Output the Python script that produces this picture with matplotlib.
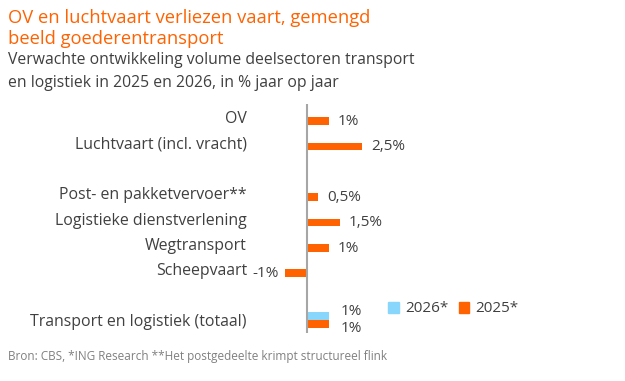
import matplotlib
matplotlib.use("Agg")
import matplotlib.pyplot as plt
from matplotlib.patches import Patch

categories = ["OV", "Luchtvaart (incl. vracht)", "", "Post- en pakketvervoer**",
              "Logistieke dienstverlening", "Wegtransport", "Scheepvaart", "",
              "Transport en logistiek (totaal)"]
values_2025 = [1, 2.5, None, 0.5, 1.5, 1, -1, None, 1]
values_2026 = [None, None, None, None, None, None, None, None, 1]
labels_2025 = ["1%", "2,5%", "", "0,5%", "1,5%", "1%", "-1%", "", "1%"]
labels_2026 = ["", "", "", "", "", "", "", "", "1%"]
series_names = ["2026*", "2025*"]

ORANGE = "#FF6200"
BLUE = "#89D6FD"
GREY = "#404040"

W, H = 625, 381
fig = plt.figure(figsize=(W / 100, H / 100), dpi=100)
plt.rcParams['font.family'] = ['Open Sans', 'DejaVu Sans']

# axes placement in pixels
px_per_unit = 22.0
x0_px = 307.0
xmin, xmax = -2.0, 13.0
left_px = x0_px + xmin * px_per_unit
right_px = x0_px + xmax * px_per_unit
top_px, bot_px = 104.3, 332.7
ax = fig.add_axes([left_px / W, 1 - bot_px / H, (right_px - left_px) / W, (bot_px - top_px) / H])
ax.set_xlim(xmin, xmax)
n = len(categories)
ax.set_ylim(n - 0.5, -0.5)

bh = 0.3
off = 0.157
ys = list(range(n))
for i, (v5, v6) in enumerate(zip(values_2025, values_2026)):
    if v5 is not None:
        ax.barh(i + off, v5, height=bh, color=ORANGE, linewidth=0)
    if v6 is not None:
        ax.barh(i - off, v6, height=bh, color=BLUE, linewidth=0)

VFS = 11
for i, (v5, l5, v6, l6) in enumerate(zip(values_2025, labels_2025, values_2026, labels_2026)):
    both = v6 is not None
    if v5 is not None:
        y = i + (0.32 if both else off + 0.02)
        if v5 >= 0:
            ax.annotate(l5, (v5, y), xytext=(9 if not both else 12, 0), textcoords="offset pixels",
                        ha="left", va="center", fontsize=VFS, color=GREY)
        else:
            ax.annotate(l5, (v5, y), xytext=(-6, 0), textcoords="offset pixels",
                        ha="right", va="center", fontsize=VFS, color=GREY)
    if v6 is not None:
        ax.annotate(l6, (v6, i - 0.32), xytext=(12, 0), textcoords="offset pixels",
                    ha="left", va="center", fontsize=VFS, color=GREY)

ax.axvline(0, color="#A6A6A6", linewidth=1.5)
for s in ax.spines.values():
    s.set_visible(False)
ax.set_xticks([])
ax.set_yticks(ys)
ax.set_yticklabels(categories, fontsize=11.4, color=GREY)
ax.tick_params(axis="y", length=0, pad=(left_px - 247) * 0.72)

handles = [Patch(color=BLUE, label=series_names[0]), Patch(color=ORANGE, label=series_names[1])]
fig.legend(handles=handles, loc="center left", bbox_to_anchor=(388 / W, 1 - 309 / H), ncol=2,
           frameon=False, fontsize=11, handlelength=0.7, handleheight=0.7,
           handletextpad=0.4, columnspacing=0.7, labelcolor=GREY, borderpad=0, borderaxespad=0)

fig.text(8 / W, 1 - 23 / H, "OV en luchtvaart verliezen vaart, gemengd", color=ORANGE,
         fontsize=13.2, va="baseline", ha="left")
fig.text(8 / W, 1 - 44 / H, "beeld goederentransport", color=ORANGE,
         fontsize=13.2, va="baseline", ha="left")
fig.text(8 / W, 1 - 64 / H, "Verwachte ontwikkeling volume deelsectoren transport", color=GREY,
         fontsize=11.3, va="baseline", ha="left")
fig.text(8 / W, 1 - 87 / H, "en logistiek in 2025 en 2026, in % jaar op jaar", color=GREY,
         fontsize=11.3, va="baseline", ha="left")
fig.text(8 / W, 1 - 360 / H, "Bron: CBS, *ING Research **Het postgedeelte krimpt structureel flink",
         color="#808080", fontsize=8.5, va="baseline", ha="left")

fig.savefig("out.png", dpi=100)
